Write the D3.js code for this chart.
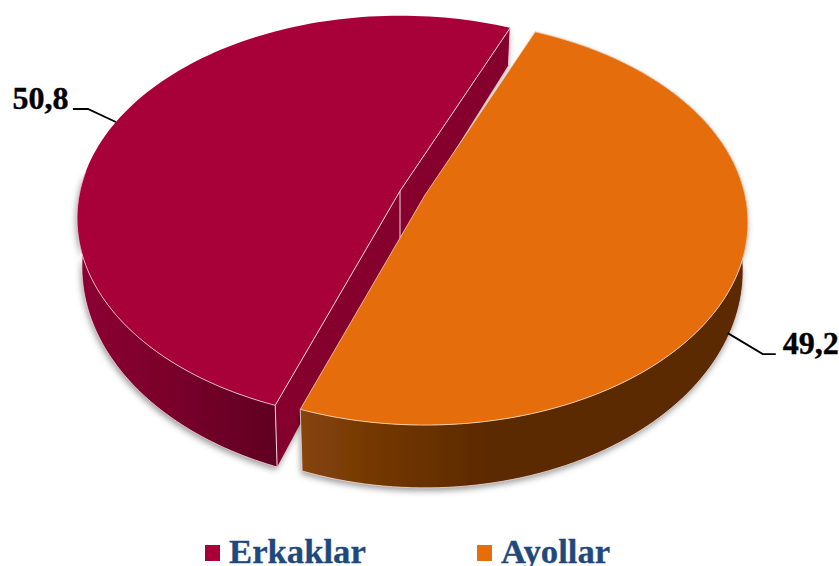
<!DOCTYPE html>
<html><head><meta charset="utf-8">
<script src="https://cdn.jsdelivr.net/npm/d3@7"></script>
<style>html,body{margin:0;padding:0;background:#fff;overflow:hidden}svg{display:block}text{font-family:"Liberation Serif",serif;font-weight:bold}</style>
</head><body><svg id="c" width="839" height="566"></svg>
<script>
const categories = ["Erkaklar", "Ayollar"];
const values = [50.8, 49.2];
const topColors = ["#a80038", "#e56d0b"];
const faceColor = "#86002e";
const legendColor = "#1f497d";

const W = 839, H = 566;
const svg = d3.select("#c");
const defs = svg.append("defs");
const fmt = d3.formatLocale({decimal: ",", thousands: " ", grouping: [3], currency: ["", ""]}).format(".1f");

const START = 199.9 * Math.PI / 180;
const slices = d3.pie().sort(null).value(d => d).startAngle(START).endAngle(START + 2 * Math.PI)(values);

// perspective model of the pie disc
const RX = 320, RY = 199, K = 0.135, DEPTH = 47, NARROW = 0.985;
const sx = d3.scaleLinear().domain([-1, 1]).range([-RX, RX]);
const sy = d3.scaleLinear().domain([-1, 1]).range([-RY, RY]);
const centers = [{x: 400, y: 191}, {x: 425, y: 195}];

function ptTop(c, a, r = 1) {
  const X = r * Math.sin(a), Y = -r * Math.cos(a), w = 1 - K * Y;
  return {x: c.x + sx(X) / w, y: c.y + sy(Y) / w, w};
}
function ptBot(c, a, r = 1) {
  const p = ptTop(c, a, r);
  return {x: c.x + (p.x - c.x) * NARROW, y: p.y + DEPTH / (p.w * p.w)};
}
const line = d3.line().x(d => d.x).y(d => d.y);
const samples = (a0, a1) => d3.range(0, 121).map(i => a0 + (a1 - a0) * i / 120);

// filters and gradients
const f = defs.append("filter").attr("id", "sh").attr("x", "-10%").attr("y", "-10%").attr("width", "120%").attr("height", "125%");
f.append("feDropShadow").attr("dx", -1).attr("dy", 3).attr("stdDeviation", 3).attr("flood-color", "#000").attr("flood-opacity", 0.4);

function grad(id, stops, x1, x2) {
  const g = defs.append("linearGradient").attr("id", id).attr("gradientUnits", "userSpaceOnUse")
    .attr("x1", x1).attr("x2", x2).attr("y1", 0).attr("y2", 0);
  stops.forEach(([o, c]) => g.append("stop").attr("offset", o).attr("stop-color", c));
}
grad("gRed", [[0, "#8c0031"], [0.45, "#7a002b"], [1, "#5f0022"]], 80, 278);
grad("gOr", [[0, "#86440a"], [0.2, "#703502"], [0.42, "#5c2a00"], [1, "#5c2a00"]], 302, 747);

const EDGE = "#f3d9dd";

// --- Erkaklar
const r = slices[0], cR = centers[0];
const gR = svg.append("g");
const shadowR = gR.append("g").attr("filter", "url(#sh)");
[r.endAngle, r.startAngle].forEach(a => {
  const t = ptTop(cR, a), b = ptBot(cR, a), cb = {x: cR.x, y: cR.y + DEPTH};
  shadowR.append("path").attr("d", line([cR, t, b, cb]) + "Z").attr("fill", faceColor);
});
const wallR = samples(r.startAngle, 1.5 * Math.PI + 0.1);
shadowR.append("path")
  .attr("d", line(wallR.map(a => ptTop(cR, a)).concat(wallR.slice().reverse().map(a => ptBot(cR, a)))) + "Z")
  .attr("fill", "url(#gRed)");
[r.endAngle, r.startAngle].forEach(a => {
  gR.append("path").attr("d", line([ptTop(cR, a), ptBot(cR, a)])).attr("stroke", EDGE).attr("stroke-width", 1).attr("fill", "none");
});
gR.append("path").attr("d", line([cR, {x: cR.x, y: cR.y + DEPTH}])).attr("stroke", EDGE).attr("stroke-width", 1).attr("fill", "none");
gR.append("path").attr("d", line(wallR.map(a => ptBot(cR, a)))).attr("stroke", EDGE).attr("stroke-width", 0.8).attr("fill", "none");
const arcR = samples(r.startAngle, r.endAngle).map(a => ptTop(cR, a));
gR.append("path").attr("d", line([cR].concat(arcR)) + "Z").attr("fill", topColors[0]);
gR.append("path").attr("d", line([arcR[arcR.length - 1], cR, arcR[0]])).attr("fill", "none").attr("stroke", EDGE).attr("stroke-width", 1);
gR.append("path").attr("d", line(wallR.map(a => ptTop(cR, a)))).attr("fill", "none").attr("stroke", EDGE).attr("stroke-width", 0.8);

// --- Ayollar
const o = slices[1], cO = centers[1];
const gO = svg.append("g");
const wallO = samples(o.startAngle, o.endAngle).filter(a => a > 0.5 * Math.PI - 0.1);
gO.append("path").attr("filter", "url(#sh)")
  .attr("d", line(wallO.map(a => ptTop(cO, a)).concat(wallO.slice().reverse().map(a => ptBot(cO, a)))) + "Z")
  .attr("fill", "url(#gOr)");
gO.append("path").attr("d", line(wallO.map(a => ptBot(cO, a)).concat([ptTop(cO, o.endAngle)]))).attr("fill", "none").attr("stroke", EDGE).attr("stroke-width", 0.8);
const arcO = samples(o.startAngle, o.endAngle).map(a => ptTop(cO, a));
gO.append("path").attr("d", line([cO].concat(arcO)) + "Z").attr("fill", topColors[1]);
gO.append("path").attr("d", line([arcO[0], cO, arcO[arcO.length - 1]])).attr("fill", "none").attr("stroke", "#f6d3b4").attr("stroke-width", 0.8);
gO.append("path").attr("d", line(wallO.map(a => ptTop(cO, a)))).attr("fill", "none").attr("stroke", "#f6d3b4").attr("stroke-width", 0.9);

// --- data labels with leader lines
const midR = (r.startAngle + r.endAngle) / 2, midO = (o.startAngle + o.endAngle) / 2;
const pR = ptTop(cR, midR), pO = ptBot(cO, midO);
svg.append("path").attr("d", line([pR, {x: pR.x - 28, y: pR.y - 13}, {x: pR.x - 43, y: pR.y - 13}]))
  .attr("fill", "none").attr("stroke", "#000").attr("stroke-width", 1.8);
svg.append("text").attr("x", pR.x - 47.5).attr("y", pR.y - 12.5).attr("text-anchor", "end")
  .attr("font-size", 32).attr("fill", "#000").attr("stroke", "#000").attr("stroke-width", 0.4).text(fmt(values[0]));
const pO2 = {x: pO.x - 6, y: pO.y + 10};
svg.append("path").attr("d", line([pO2, {x: pO2.x + 35, y: pO2.y + 21}, {x: pO2.x + 48, y: pO2.y + 21}]))
  .attr("fill", "none").attr("stroke", "#000").attr("stroke-width", 1.8);
svg.append("text").attr("x", pO2.x + 55).attr("y", pO2.y + 21)
  .attr("font-size", 32).attr("fill", "#000").attr("stroke", "#000").attr("stroke-width", 0.4).text(fmt(values[1]));

// --- legend
const lx = d3.scaleOrdinal().domain(categories).range([205, 477]);
const leg = svg.append("g").selectAll("g").data(categories).join("g").attr("transform", d => `translate(${lx(d)},0)`);
leg.append("rect").attr("y", 545).attr("width", 15).attr("height", 16).attr("fill", (d, i) => topColors[i]);
leg.append("text").attr("x", 24).attr("y", 563).attr("font-size", 34.7).attr("fill", legendColor).attr("stroke", legendColor).attr("stroke-width", 0.3).text(d => d);
</script></body></html>
